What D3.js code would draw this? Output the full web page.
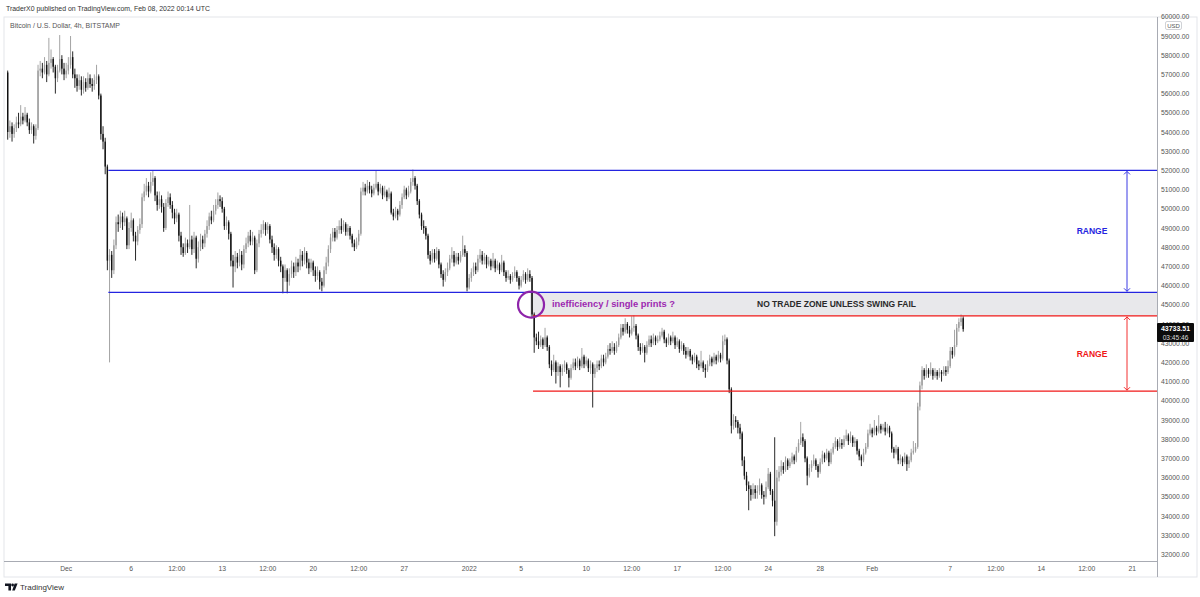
<!DOCTYPE html>
<html lang="en">
<head>
<meta charset="UTF-8">
<title>BTCUSD 4h - range</title>
<script src="https://d3js.org/d3.v7.min.js"></script>
<style>
    html, body { margin: 0; padding: 0; overflow: hidden; background: #fff; }
    svg text { font-family: "Liberation Sans", "DejaVu Sans", sans-serif; }
</style>
</head>
<body>
<svg id="chart" width="1200" height="597"></svg>
<script>
// 4h candles, first bar opens Nov 26 2021 12:00 UTC
const firstBar = Date.UTC(2021, 10, 26, 12);
const barMs = 4 * 3600 * 1000;
const firstOpen = 57.1;
// [high, low, close] in thousand USD, open = previous close
const candles = [
 [57.2,53.6,54.0],[54.6,53.7,54.3],[54.5,53.5,53.9],
 [54.4,53.7,54.2],[54.8,54.0,54.5],[55.0,54.2,54.4],[55.4,54.3,54.8],[55.0,54.4,54.6],[55.3,54.5,54.9],
 [55.0,54.3,54.5],[54.7,53.9,54.1],[54.5,53.9,54.3],[54.4,53.4,53.8],[54.4,53.6,54.2],[57.5,54.1,57.2],
 [57.7,56.9,57.3],[57.6,56.8,57.1],[57.9,57.0,57.5],[57.7,56.6,57.0],[58.9,56.9,57.6],[58.3,57.3,57.8],
 [57.9,57.1,57.4],[57.5,56.0,56.8],[57.5,56.6,57.2],[59.05,57.1,57.8],[58.0,57.0,57.3],[57.6,56.7,57.0],
 [57.6,56.8,57.2],[57.9,57.0,57.5],[59.0,57.3,57.9],[58.2,56.8,57.0],[57.3,56.3,56.8],[57.0,56.1,56.4],
 [57.0,56.2,56.7],[56.9,55.9,56.2],[56.9,56.0,56.6],[56.8,56.1,56.3],[57.1,56.2,56.8],[57.0,56.3,56.5],
 [56.8,56.1,56.4],[57.0,56.2,56.7],[57.5,56.5,56.9],[57.0,55.7,55.9],[56.0,53.6,53.9],[54.3,53.1,53.5],
 [53.7,51.8,52.2],[52.3,46.8,47.3],[47.9,42.0,47.6],[47.8,46.4,46.8],[48.4,46.6,48.1],[49.6,47.9,49.3],
 [49.7,48.8,49.2],[49.9,49.0,49.6],[49.8,48.9,49.3],[49.9,49.1,49.5],[49.6,47.9,48.1],[49.3,47.9,49.0],
 [49.8,48.8,49.4],[49.5,48.3,48.6],[48.8,47.3,48.3],[49.1,48.1,48.9],[49.5,48.7,49.2],[50.8,49.0,50.6],
 [51.3,50.4,50.9],[51.6,50.7,51.2],[51.4,50.6,50.9],[51.9,50.8,51.4],[52.0,51.2,51.6],[51.7,50.4,50.7],
 [50.9,49.9,50.2],[50.9,50.0,50.5],[50.7,49.8,50.1],[50.3,48.8,49.0],[50.5,48.9,50.3],[50.9,50.1,50.6],
 [50.8,50.0,50.2],[50.4,49.5,49.8],[50.0,49.2,49.5],[50.0,49.3,49.7],[49.8,48.3,48.6],[48.8,47.6,48.0],
 [48.2,47.5,47.7],[48.5,47.6,48.2],[48.4,47.7,48.0],[50.2,47.9,48.4],[48.6,47.6,47.9],[48.8,47.7,48.5],
 [48.6,46.9,47.4],[48.3,47.2,48.0],[48.7,47.8,48.4],[48.6,47.9,48.2],[48.9,48.0,48.7],[49.4,48.5,49.1],
 [49.8,48.9,49.6],[49.9,49.2,49.4],[50.2,49.3,49.9],[50.5,49.7,50.2],[50.85,50.0,50.5],[50.7,50.1,50.4],
 [50.6,49.8,50.0],[50.1,48.9,49.1],[49.6,48.9,49.3],[49.4,48.4,48.7],[48.8,47.0,47.3],[47.6,45.9,47.0],
 [47.8,46.7,47.5],[47.7,46.9,47.2],[47.9,47.0,47.6],[47.8,46.8,47.1],[48.1,46.9,47.9],[48.5,47.7,48.2],
 [48.8,48.0,48.6],[48.9,48.1,48.3],[48.8,48.1,48.5],[48.6,46.6,46.8],[48.4,46.7,48.2],[48.9,48.0,48.7],
 [49.2,48.5,48.9],[49.4,48.7,49.2],[49.3,48.6,48.9],[49.3,48.7,49.1],[49.2,48.2,48.4],[48.6,47.7,48.0],
 [48.2,47.3,47.6],[48.1,47.4,47.9],[48.0,47.0,47.3],[47.5,46.7,47.0],[47.1,45.6,46.4],[47.1,46.2,46.8],
 [46.9,45.6,46.2],[46.9,46.0,46.6],[47.3,46.4,47.0],[47.2,46.4,46.7],[47.5,46.5,47.2],[47.4,46.7,47.0],
 [47.9,46.8,47.6],[47.8,47.0,47.3],[48.0,47.1,47.7],[47.8,46.9,47.2],[47.4,46.6,46.9],[47.4,46.7,47.2],
 [47.3,46.5,46.8],[47.0,46.2,46.5],[47.0,46.3,46.7],[46.8,45.8,46.2],[46.4,45.7,46.0],[47.0,45.9,46.8],
 [47.5,46.6,47.2],[48.1,47.0,47.9],[48.7,47.7,48.5],[49.0,48.3,48.8],[49.0,48.3,48.5],[49.1,48.4,48.9],
 [49.4,48.7,49.1],[49.5,48.7,48.9],[49.4,48.8,49.2],[49.3,48.6,48.8],[49.2,48.6,49.0],[49.1,48.4,48.6],
 [48.7,48.0,48.2],[48.4,47.8,48.0],[48.5,47.9,48.3],[48.9,48.1,48.7],[51.1,48.6,50.9],[51.4,50.7,51.1],
 [51.3,50.7,50.9],[51.5,50.8,51.2],[51.4,50.8,51.0],[51.2,50.6,50.8],[51.3,50.7,51.1],[52.0,51.0,51.3],
 [51.4,50.7,50.9],[51.3,50.8,51.1],[51.2,50.5,50.7],[51.2,50.6,50.9],[51.0,50.4,50.6],[51.1,50.5,50.8],
 [50.9,49.7,49.8],[50.0,49.4,49.6],[50.1,49.5,49.9],[50.0,49.4,49.7],[50.4,49.6,50.2],[50.8,50.0,50.6],
 [51.2,50.5,51.0],[51.1,50.5,50.7],[51.2,50.6,50.9],[51.6,50.8,51.4],[52.05,51.2,51.6],[51.7,51.0,51.2],
 [51.3,50.2,50.4],[50.5,49.5,49.7],[49.8,48.9,49.1],[49.4,48.7,49.0],[49.1,48.4,48.6],[48.7,47.4,47.6],
 [47.8,47.1,47.3],[47.9,47.2,47.7],[47.9,47.2,47.4],[48.0,47.3,47.8],[47.9,46.9,47.1],[47.2,46.4,46.6],
 [46.8,45.95,46.3],[46.9,46.2,46.7],[47.2,46.5,46.9],[47.6,46.8,47.4],[48.0,47.2,47.6],[47.8,47.0,47.2],
 [47.7,47.1,47.5],[47.7,47.1,47.3],[47.8,47.2,47.6],[48.6,47.5,47.9],[48.1,47.5,47.7],[47.8,45.7,45.9],
 [46.6,45.8,46.4],[46.9,46.2,46.7],[47.2,46.5,47.0],[47.2,46.6,46.8],[47.6,46.7,47.4],[47.9,47.2,47.6],
 [47.8,47.1,47.3],[47.7,47.1,47.5],[47.6,46.9,47.1],[47.5,47.0,47.3],[47.4,46.8,47.0],[47.7,46.9,47.3],
 [47.4,46.7,46.9],[47.3,46.8,47.1],[47.2,46.6,46.8],[47.6,46.7,47.2],[47.3,46.5,46.7],[46.8,46.2,46.4],
 [46.8,46.3,46.5],[46.6,46.1,46.3],[46.7,46.2,46.5],[47.0,46.4,46.7],[46.8,46.2,46.4],[46.5,45.8,46.0],
 [46.5,45.9,46.3],[46.8,46.2,46.6],[46.7,46.1,46.3],[46.9,46.2,46.6],[46.8,46.2,46.4],[46.5,44.3,44.5],
 [44.6,42.5,43.3],[43.5,42.9,43.1],[43.6,42.7,42.9],[43.4,42.8,43.2],[43.3,42.7,42.9],[43.8,42.8,43.3],
 [43.4,42.6,42.8],[42.9,41.7,41.9],[42.1,41.3,41.6],[42.4,41.5,42.0],[42.1,40.9,41.5],[42.0,41.3,41.8],
 [41.9,40.7,41.5],[41.9,41.3,41.7],[42.1,41.5,41.9],[42.0,41.4,41.6],[41.7,40.7,41.2],[41.9,41.1,41.7],
 [42.2,41.6,42.0],[42.2,41.6,41.8],[42.3,41.7,42.1],[42.2,41.6,41.8],[42.75,41.7,42.3],[42.4,41.7,41.9],
 [42.3,41.8,42.1],[42.2,41.5,41.7],[42.1,41.4,41.9],[42.0,39.65,41.4],[41.9,41.2,41.7],[42.1,41.5,41.9],
 [42.1,41.6,41.8],[42.4,41.7,42.2],[42.4,41.8,42.0],[42.5,41.9,42.3],[42.9,42.2,42.7],[43.0,42.4,42.6],
 [43.1,42.5,42.8],[43.0,42.4,42.6],[43.1,42.5,42.9],[43.5,42.8,43.3],[44.0,43.2,43.8],[44.0,43.4,43.6],
 [44.3,43.5,44.0],[44.1,43.5,43.7],[43.9,43.3,43.5],[44.4,43.4,43.8],[44.45,43.6,43.9],[44.0,43.2,43.4],
 [43.5,42.6,42.8],[43.0,42.4,42.6],[43.0,42.5,42.8],[42.9,42.0,42.5],[43.1,42.4,42.9],[43.4,42.8,43.2],
 [43.4,42.8,43.0],[43.5,42.9,43.3],[43.4,42.9,43.1],[43.4,43.0,43.2],[43.6,43.1,43.4],[43.8,43.3,43.6],
 [43.7,43.0,43.2],[43.3,42.8,43.0],[43.5,42.9,43.3],[43.4,42.9,43.1],[43.6,43.0,43.3],[43.4,42.7,42.9],
 [43.3,42.8,43.1],[43.2,42.5,42.7],[43.1,42.6,42.9],[43.0,42.4,42.6],[42.8,42.2,42.4],[42.8,42.3,42.6],
 [42.7,42.1,42.3],[42.4,41.9,42.1],[42.5,42.0,42.3],[42.4,41.7,41.9],[42.1,41.6,41.8],[42.6,41.7,42.0],
 [42.1,41.5,41.7],[41.9,41.2,41.6],[42.1,41.5,41.9],[42.4,41.8,42.2],[42.3,41.8,42.0],[42.5,41.9,42.3],
 [42.4,41.9,42.1],[42.6,42.0,42.4],[42.5,42.0,42.2],[43.4,42.1,43.1],[43.45,42.9,43.2],[43.3,41.9,42.1],
 [42.2,40.4,40.6],[40.7,38.3,38.7],[39.3,38.5,39.0],[39.2,38.6,38.9],[39.0,38.3,38.6],[38.8,38.0,38.3],
 [38.4,36.6,36.9],[37.1,35.9,36.1],[36.3,35.3,35.6],[35.8,34.3,35.4],[35.6,34.8,35.1],[35.7,34.9,35.4],
 [35.6,34.9,35.2],[35.6,34.9,35.3],[35.95,35.1,35.6],[35.7,34.9,35.1],[35.3,34.6,35.0],[35.8,34.9,35.5],
 [36.5,35.4,36.2],[36.3,35.1,35.3],[35.4,34.5,34.8],[38.1,32.95,33.7],[36.4,33.5,36.0],[36.6,35.8,36.3],
 [36.9,36.1,36.6],[36.8,36.2,36.4],[37.1,36.3,36.9],[37.0,36.4,36.6],[37.0,36.5,36.8],[37.3,36.7,37.1],
 [37.2,36.7,36.9],[37.6,36.8,37.4],[38.0,37.3,37.8],[38.9,37.7,38.1],[38.3,37.6,37.9],[38.0,36.8,37.0],
 [37.1,35.6,36.1],[36.7,36.0,36.5],[36.9,36.3,36.7],[37.2,36.6,36.9],[37.0,36.4,36.6],[36.7,36.0,36.3],
 [37.0,36.2,36.8],[37.4,36.7,37.2],[37.3,36.8,37.0],[37.5,36.9,37.3],[37.4,36.6,36.8],[37.5,36.7,37.3],
 [37.8,37.2,37.6],[38.1,37.5,37.9],[38.0,37.4,37.6],[38.1,37.5,37.8],[38.0,37.5,37.7],[38.2,37.6,38.0],
 [38.5,37.9,38.2],[38.3,37.7,37.9],[38.4,37.8,38.1],[38.2,37.6,37.8],[38.1,37.6,37.9],[38.0,37.2,37.4],
 [37.5,36.9,37.1],[37.2,36.6,36.9],[37.5,36.8,37.3],[37.8,37.2,37.6],[38.5,37.5,38.3],[38.8,38.2,38.5],
 [38.6,38.1,38.3],[39.0,38.2,38.6],[38.7,38.2,38.4],[39.25,38.3,38.7],[38.8,38.3,38.5],[38.8,38.4,38.6],
 [38.9,38.2,38.4],[38.8,38.3,38.6],[38.7,38.1,38.3],[38.4,37.3,37.5],[37.6,37.0,37.3],[37.7,37.2,37.5],
 [37.6,36.7,36.9],[37.2,36.7,37.0],[37.1,36.6,36.8],[37.3,36.7,37.1],[37.2,36.35,36.7],[37.1,36.5,36.9],
 [37.5,36.8,37.3],[37.9,37.2,37.4],[37.8,37.3,37.6],[39.9,37.5,39.7],[41.0,39.5,40.8],[41.8,40.6,41.6],
 [41.7,41.1,41.3],[41.9,41.2,41.6],[41.7,41.2,41.4],[42.0,41.3,41.6],[41.7,41.1,41.3],[41.7,41.2,41.5],
 [41.6,41.1,41.3],[41.7,41.2,41.5],[41.6,41.0,41.4],[41.8,41.3,41.6],[41.8,41.3,41.5],[42.1,41.4,41.8],
 [42.8,41.7,42.6],[42.8,42.2,42.4],[43.7,42.3,42.9],[44.0,42.8,43.8],[44.3,43.6,44.1],[44.5,43.9,44.3],
 [44.4,43.6,43.73351]
];

const priceTicks = d3.range(32000, 60001, 1000);
const timeTicks = [
    ["2021-12-01T00:00Z", "Dec"], ["2021-12-06T00:00Z", "6"], ["2021-12-09T12:00Z", "12:00"],
    ["2021-12-13T00:00Z", "13"], ["2021-12-16T12:00Z", "12:00"], ["2021-12-20T00:00Z", "20"],
    ["2021-12-23T12:00Z", "12:00"], ["2021-12-27T00:00Z", "27"], ["2022-01-01T00:00Z", "2022"],
    ["2022-01-05T00:00Z", "5"], ["2022-01-10T00:00Z", "10"], ["2022-01-13T12:00Z", "12:00"],
    ["2022-01-17T00:00Z", "17"], ["2022-01-20T12:00Z", "12:00"], ["2022-01-24T00:00Z", "24"],
    ["2022-01-28T00:00Z", "28"], ["2022-02-01T00:00Z", "Feb"], ["2022-02-07T00:00Z", "7"],
    ["2022-02-10T12:00Z", "12:00"], ["2022-02-14T00:00Z", "14"], ["2022-02-17T12:00Z", "12:00"],
    ["2022-02-21T00:00Z", "21"]
];

// drawn levels (USD) and where they start
const blueRange = [45650, 52000];
const redRange = [40500, 44420];
const blueStart = "2021-12-04T04:00Z";
const zoneStart = "2022-01-05T20:00Z";

const svg = d3.select("#chart");
const pane = {left: 4, top: 17, right: 1157, bottom: 561};

const x = d3.scaleUtc()
    .domain([new Date("2021-12-01T00:00Z"), new Date("2022-02-21T00:00Z")])
    .range([66.2, 1132.2]);
const y = d3.scaleLinear().domain([32000, 60000]).range([554.4, 16.8]);
const barW = x(new Date(firstBar + barMs)) - x(new Date(firstBar));

// frame
svg.append("rect").attr("x", pane.left).attr("y", pane.top)
    .attr("width", 1197 - pane.left).attr("height", 577 - pane.top)
    .attr("fill", "#fff").attr("stroke", "#e3e5ea").attr("stroke-width", 1);

svg.append("defs").append("clipPath").attr("id", "paneClip")
    .append("rect").attr("x", pane.left).attr("y", pane.top)
    .attr("width", pane.right - pane.left).attr("height", pane.bottom - pane.top);

const plot = svg.append("g").attr("clip-path", "url(#paneClip)");

// grey no-trade zone
const zx = x(new Date(zoneStart)) - 2;
plot.append("rect")
    .attr("x", zx).attr("y", y(blueRange[0]))
    .attr("width", pane.right - zx).attr("height", y(redRange[1]) - y(blueRange[0]))
    .attr("fill", "#e8e8eb");

// candles
const upCol = "#9a9a9a", downCol = "#111";
const bars = candles.map((d, i) => {
    const open = i === 0 ? firstOpen : candles[i - 1][2];
    return {t: new Date(firstBar + i * barMs), o: open * 1000, h: d[0] * 1000, l: d[1] * 1000, c: d[2] * 1000};
});
const cg = plot.append("g");
cg.selectAll("line").data(bars).join("line")
    .attr("x1", d => x(d.t)).attr("x2", d => x(d.t))
    .attr("y1", d => y(d.h)).attr("y2", d => y(d.l))
    .attr("stroke", d => d.c >= d.o ? upCol : downCol).attr("stroke-width", 0.9);
cg.selectAll("rect").data(bars).join("rect")
    .attr("x", d => x(d.t) - barW * 0.32)
    .attr("width", barW * 0.64)
    .attr("y", d => y(Math.max(d.o, d.c)))
    .attr("height", d => Math.max(0.8, Math.abs(y(d.o) - y(d.c))))
    .attr("fill", d => d.c >= d.o ? upCol : downCol);

// range lines
const bx = x(new Date(blueStart)) + 1;
const blue = "#2424e0", red = "#f01818";
blueRange.forEach(v => {
    plot.append("line").attr("x1", bx).attr("x2", pane.right)
        .attr("y1", y(v)).attr("y2", y(v)).attr("stroke", blue).attr("stroke-width", 1.3);
});
redRange.forEach(v => {
    plot.append("line").attr("x1", zx + 3).attr("x2", pane.right)
        .attr("y1", y(v)).attr("y2", y(v)).attr("stroke", red).attr("stroke-width", 1.3);
});

// double arrows with RANGE labels
function rangeArrow(lo, hi, col) {
    const ax = 1127;
    const g = plot.append("g").attr("stroke", col).attr("fill", "none").attr("stroke-width", 0.9);
    g.append("line").attr("x1", ax).attr("x2", ax).attr("y1", y(hi) + 1).attr("y2", y(lo) - 1);
    g.append("path").attr("d", `M${ax - 3},${y(hi) + 4}L${ax},${y(hi) + 1}L${ax + 3},${y(hi) + 4}`);
    g.append("path").attr("d", `M${ax - 3},${y(lo) - 4}L${ax},${y(lo) - 1}L${ax + 3},${y(lo) - 4}`);
    plot.append("text").attr("x", 1092).attr("y", (y(hi) + y(lo)) / 2 + 3)
        .attr("text-anchor", "middle").attr("font-size", 8.5).attr("font-weight", "bold")
        .attr("fill", col).text("RANGE");
}
rangeArrow(blueRange[0], blueRange[1], blue);
rangeArrow(redRange[0], redRange[1], red);

// annotations in the zone
const midZone = (y(blueRange[0]) + y(redRange[1])) / 2;
plot.append("circle").attr("cx", x(new Date(zoneStart)) - 1).attr("cy", midZone + 0.5).attr("r", 13)
    .attr("fill", "none").attr("stroke", "#8e24aa").attr("stroke-width", 2.2);
plot.append("text").attr("x", 552).attr("y", midZone + 3)
    .attr("font-size", 9).attr("font-weight", "bold").attr("fill", "#9c27b0")
    .attr("textLength", 123).attr("lengthAdjust", "spacingAndGlyphs")
    .text("inefficiency / single prints  ?");
plot.append("text").attr("x", 757).attr("y", midZone + 3)
    .attr("font-size", 8.5).attr("font-weight", "bold").attr("fill", "#2a2a2a")
    .attr("textLength", 159).attr("lengthAdjust", "spacingAndGlyphs")
    .text("NO TRADE ZONE UNLESS SWING FAIL");

// price axis
svg.append("line").attr("x1", pane.right + 0.5).attr("x2", pane.right + 0.5)
    .attr("y1", pane.top).attr("y2", 577).attr("stroke", "#a8abb3");
const pa = svg.append("g");
pa.selectAll("text").data(priceTicks).join("text")
    .attr("x", 1161).attr("y", d => y(d) + 2.5)
    .attr("font-size", 6.8).attr("fill", "#555")
    .text(d => d3.format(".2f")(d));
svg.append("rect").attr("x", 1165.5).attr("y", 21.5).attr("width", 16).attr("height", 8).attr("rx", 1.5)
    .attr("fill", "#fff").attr("stroke", "#c4c6cc").attr("stroke-width", 0.8);
svg.append("text").attr("x", 1173.5).attr("y", 27.8).attr("text-anchor", "middle")
    .attr("font-size", 6).attr("fill", "#555").text("USD");

// last price label
const last = bars[bars.length - 1];
const ly = y(last.c);
svg.append("rect").attr("x", 1157).attr("y", ly - 6).attr("width", 37).attr("height", 19)
    .attr("fill", "#0c0c0c").attr("rx", 1);
svg.append("text").attr("x", 1175.5).attr("y", ly + 2.2).attr("text-anchor", "middle")
    .attr("font-size", 7).attr("font-weight", "bold").attr("fill", "#fff")
    .text(d3.format(".2f")(last.c));
svg.append("text").attr("x", 1175.5).attr("y", ly + 10.5).attr("text-anchor", "middle")
    .attr("font-size", 6.6).attr("fill", "#ddd").text("03:45:46");

// time axis
svg.append("line").attr("x1", pane.left).attr("x2", pane.right)
    .attr("y1", pane.bottom + 0.5).attr("y2", pane.bottom + 0.5).attr("stroke", "#a8abb3");
svg.append("g").selectAll("text").data(timeTicks).join("text")
    .attr("x", d => x(new Date(d[0]))).attr("y", 571)
    .attr("text-anchor", "middle").attr("font-size", 6.8).attr("fill", "#555")
    .text(d => d[1]);

// header and legend texts
svg.append("text").attr("x", 6).attr("y", 11).attr("font-size", 7.5).attr("fill", "#333")
    .attr("textLength", 204).attr("lengthAdjust", "spacingAndGlyphs")
    .text("TraderX0 published on TradingView.com, Feb 08, 2022 00:14 UTC");
svg.append("text").attr("x", 10).attr("y", 28).attr("font-size", 6.8).attr("fill", "#555")
    .attr("textLength", 110).attr("lengthAdjust", "spacingAndGlyphs")
    .text("Bitcoin / U.S. Dollar, 4h, BITSTAMP");

// footer logo
const logo = svg.append("g").attr("fill", "#131722");
logo.append("path").attr("d", "M5,583.5h6v7h-2.6v-4.6h-3.4z");
logo.append("circle").attr("cx", 12.6).attr("cy", 585).attr("r", 1.4);
logo.append("path").attr("d", "M14.6,583.5h3l-2.8,7h-2.6z");
svg.append("text").attr("x", 20).attr("y", 590).attr("font-size", 8).attr("fill", "#333")
    .text("TradingView");
</script>
</body>
</html>
